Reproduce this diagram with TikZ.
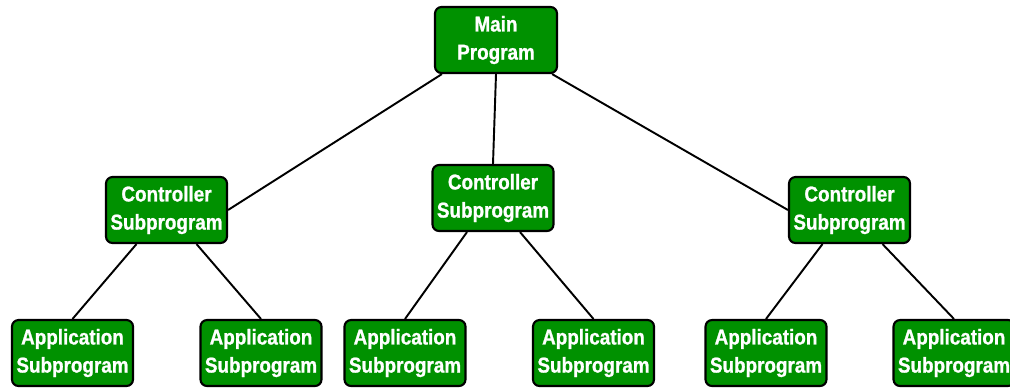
\documentclass[tikz,border=0pt]{standalone}
\usepackage{fontspec}
\setmainfont[BoldFeatures={FakeStretch=0.88,FakeBold=1}]{Liberation Sans}
\usetikzlibrary{calc}
\definecolor{boxgreen}{RGB}{0,145,0}
\tikzset{
  box/.style={draw=black, line width=1.2pt, fill=boxgreen, rounded corners=0.13cm,
    text=white, align=center, inner sep=0pt,
    minimum width=2.42cm, minimum height=1.32cm,
    font=\bfseries\fontsize{12.2}{16}\selectfont},
  link/.style={draw=black, line width=1.1pt}
}
\begin{document}
\begin{tikzpicture}[x=0.02cm, y=-0.02cm]
\useasboundingbox (0,0) rectangle (1010,387);
\node[box, minimum width=2.44cm] (main) at (496,40) {Main\\Program};
\node[box] (cl) at (166.5,210) {Controller\\Subprogram};
\node[box] (cm) at (493,198) {Controller\\Subprogram};
\node[box] (cr) at (849.5,210) {Controller\\Subprogram};
\node[box] (a1) at (72.5,353) {Application\\Subprogram};
\node[box] (a2) at (261,353) {Application\\Subprogram};
\node[box] (a3) at (405,353) {Application\\Subprogram};
\node[box] (a4) at (593.5,353) {Application\\Subprogram};
\node[box] (a5) at (766,353) {Application\\Subprogram};
\node[box] (a6) at (954,353) {Application\\Subprogram};
\draw[link] ($(main.south west)+(8,0)$) -- (cl.east);
\draw[link] (main.south) -- (cm.north);
\draw[link] ($(main.south east)+(-6,0)$) -- (cr.west);
\draw[link] ($(cl.south)+(-30,0)$) -- (a1.north);
\draw[link] ($(cl.south)+(30,0)$) -- (a2.north);
\draw[link] ($(cm.south)+(-26,0)$) -- (a3.north);
\draw[link] ($(cm.south)+(27,0)$) -- (a4.north);
\draw[link] ($(cr.south)+(-27,0)$) -- (a5.north);
\draw[link] ($(cr.south)+(33,0)$) -- (a6.north);
\end{tikzpicture}
\end{document}
